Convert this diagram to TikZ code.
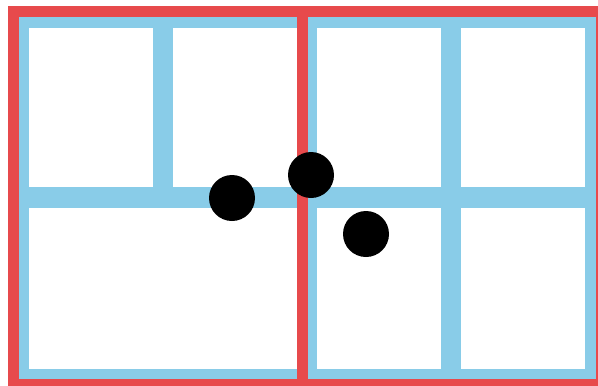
\documentclass[tikz,border=0pt]{standalone}
\definecolor{paneblue}{RGB}{137,204,232}
\definecolor{framered}{RGB}{231,74,76}

\begin{document}
\begin{tikzpicture}[
    x=1pt, y=-1pt,
    bar/.style={fill=paneblue},
    frame/.style={draw=framered, line width=11pt},
    dot/.style={circle, fill=black, minimum size=46pt, inner sep=0pt}
]
\useasboundingbox (0,0) rectangle (598,386);
\clip (0,0) rectangle (598,386);

% --- blue lattice: full-height uprights ---
\foreach \x in {19,307,451,595}
  \fill[bar] (\x-10,7) rectangle (\x+10,389);
% upright that stops at the middle band (lower left pane is one wide cell)
\fill[bar] (153,7) rectangle (173,198);

% --- blue rails ---
\foreach \y in {17,197.5,379}
  \fill[bar] (9,\y-10.5) rectangle (605,\y+10.5);

% --- two red frames, sharing the middle edge ---
\draw[frame] (13.5,11.5) rectangle (302,384.5);
\draw[frame] (302,11.5) rectangle (601.5,384.5);

% --- dots ---
\node[dot] (dotleft)  at (232,198) {};
\node[dot] (dotmid)   at (311,175) {};
\node[dot] (dotright) at (366,234) {};

\end{tikzpicture}
\end{document}
